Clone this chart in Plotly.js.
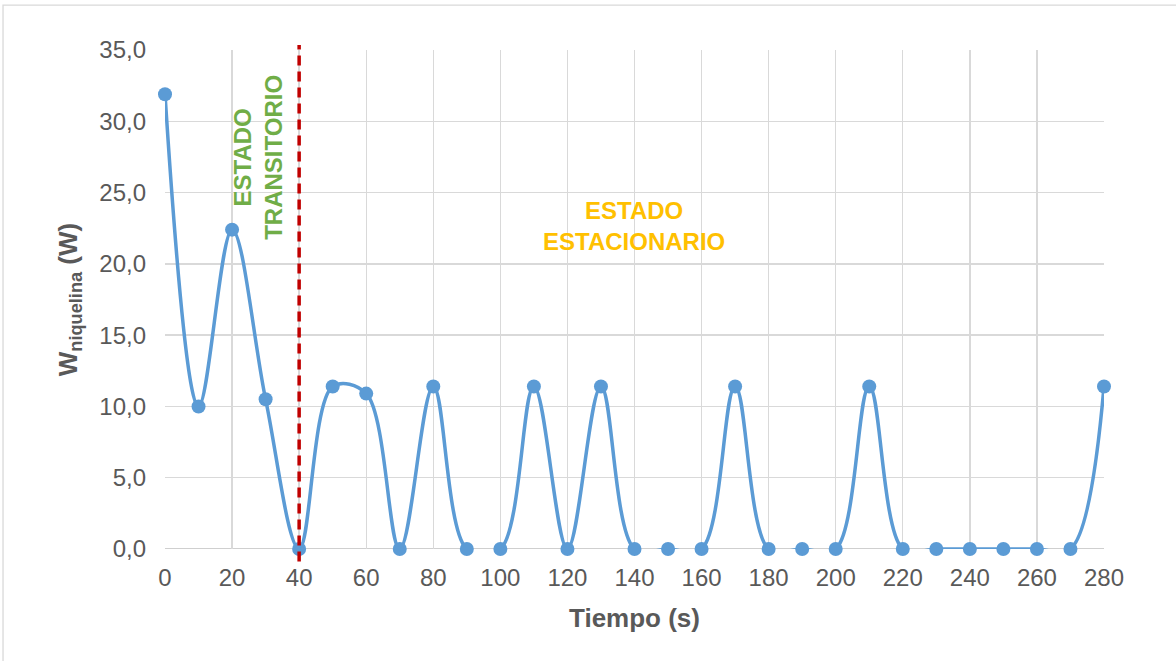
<!DOCTYPE html>
<html>
<head>
<meta charset="utf-8">
<script src="https://cdn.plot.ly/plotly-3.0.1.min.js"></script>
<style>
html,body{margin:0;padding:0;background:#fff;}
#chart{width:1176px;height:661px;}
</style>
</head>
<body>
<div id="chart"></div>
<script>
const tiempo = [0,10,20,30,40,50,60,70,80,90,100,110,120,130,140,150,160,170,180,190,200,210,220,230,240,250,260,270,280];
const potencia = [31.9,10.0,22.4,10.5,0,11.4,10.9,0,11.4,0,0,11.4,0,11.4,0,0,0,11.4,0,0,0,11.4,0,0,0,0,0,0,11.4];
const limiteTransitorio = 40;
const textoTransitorio = "ESTADO<br>TRANSITORIO";
const textoEstacionario = "ESTADO<br>ESTACIONARIO";

const FAM = 'Liberation Sans, Arial, sans-serif';

const trace = {
  x: tiempo, y: potencia, type: 'scatter', mode: 'lines+markers',
  line: {color: '#5B9BD5', width: 3.5, shape: 'spline', smoothing: 1},
  marker: {color: '#5B9BD5', size: 14},
  cliponaxis: false,
  hoverinfo: 'skip', showlegend: false
};

const layout = {
  width: 1176, height: 661,
  margin: {l: 165, r: 72, t: 50, b: 112},
  paper_bgcolor: '#fff', plot_bgcolor: '#fff',
  separators: ',.',
  font: {family: FAM, size: 20, color: '#595959'},
  showlegend: false,
  xaxis: {
    range: [0, 280], dtick: 20, tick0: 0, automargin: false,
    showgrid: true, gridcolor: '#D9D9D9', gridwidth: 1.3,
    zeroline: false, showline: false, ticks: '',
    tickfont: {family: FAM, size: 24, color: '#595959'},
    ticklabelstandoff: 12,
    title: {text: '<b>Tiempo (s)</b>', font: {family: FAM, size: 26, color: '#595959'}, standoff: 18}
  },
  yaxis: {
    range: [0, 35], dtick: 5, tick0: 0, tickformat: '.1f', automargin: false,
    showgrid: true, gridcolor: '#D9D9D9', gridwidth: 1.3,
    zeroline: false, showline: false, ticks: '',
    tickfont: {family: FAM, size: 24, color: '#595959'},
    ticklabelstandoff: 18,
    title: {text: '<b>W<sub>niquelina</sub> (W)</b>', font: {family: FAM, size: 26, color: '#595959'}, standoff: 14}
  },
  shapes: [
    {type: 'rect', xref: 'paper', yref: 'paper', x0: -0.1725, x1: 1.2, y0: -0.4, y1: 1.09,
     line: {color: '#D9D9D9', width: 1.3}, fillcolor: 'rgba(0,0,0,0)', layer: 'below'},
    {type: 'line', xref: 'paper', yref: 'y', x0: 0, x1: 1, y0: 0, y1: 0,
     line: {color: '#BFBFBF', width: 1.5}, layer: 'below'},
    {type: 'line', xref: 'x', yref: 'paper', x0: limiteTransitorio, x1: limiteTransitorio, y0: -0.025, y1: 1.01,
     line: {color: '#C00000', width: 3.5, dash: '10px,6px'}}
  ],
  annotations: [
    {x: 27.7, y: 27.5, xref: 'x', yref: 'y', text: '<b>' + textoTransitorio + '</b>', textangle: -90,
     showarrow: false, font: {family: FAM, size: 24, color: '#70AD47'}, align: 'center'},
    {x: 139.8, y: 22.65, xref: 'x', yref: 'y', text: '<b>' + textoEstacionario + '</b>',
     showarrow: false, font: {family: FAM, size: 24, color: '#FFC000'}, align: 'center'}
  ]
};

Plotly.newPlot('chart', [trace], layout, {displayModeBar: false, staticPlot: true});
</script>
</body>
</html>
